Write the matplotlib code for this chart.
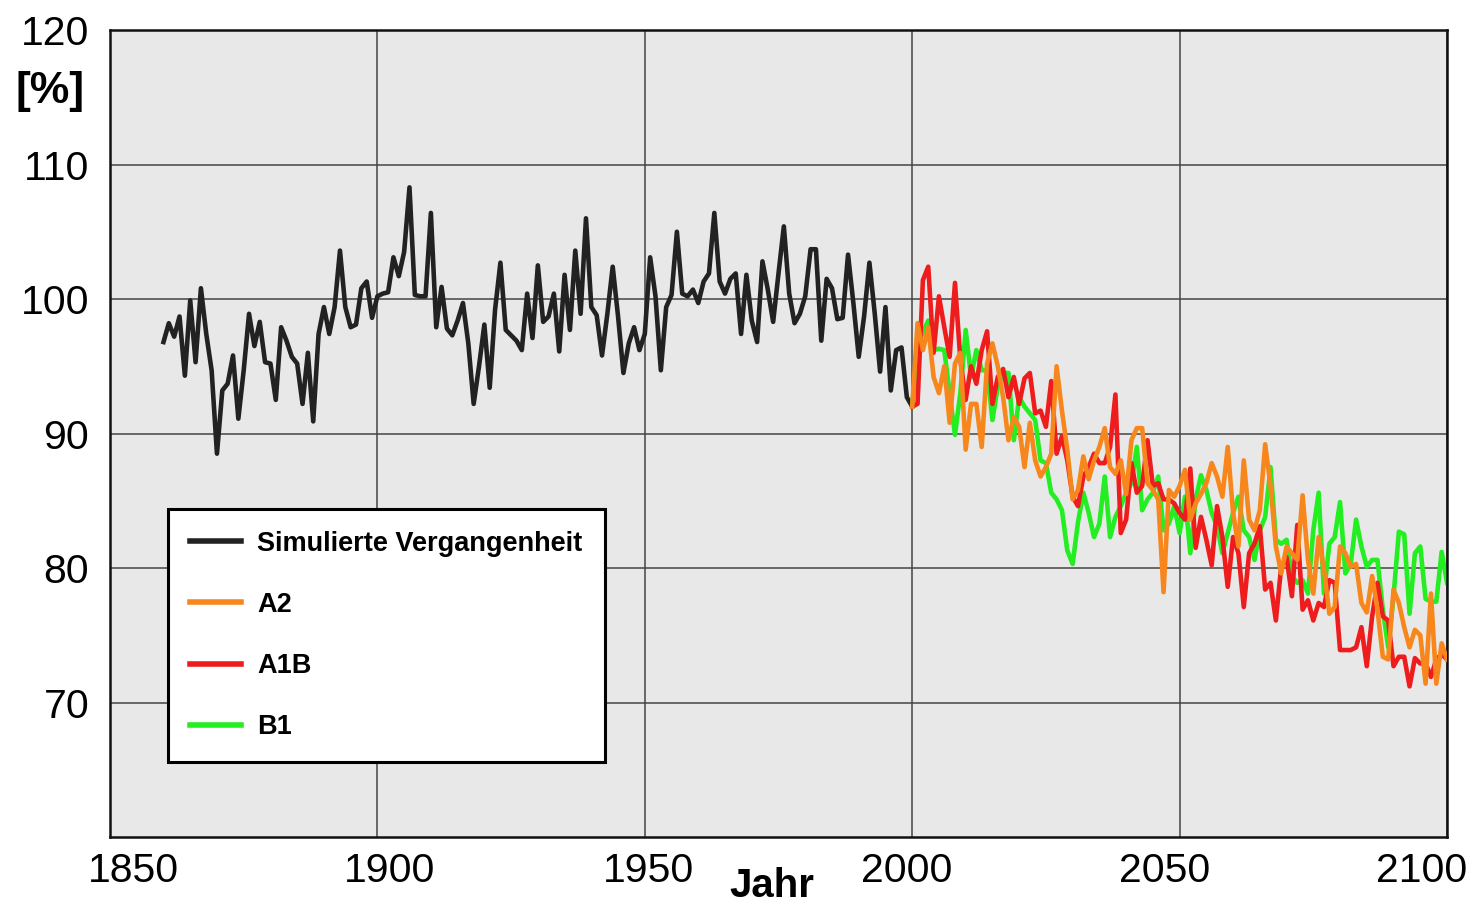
import numpy as np
import matplotlib
matplotlib.use("Agg")
import matplotlib.pyplot as plt
from matplotlib import transforms

plt.rcParams['font.family'] = ['Liberation Sans', 'DejaVu Sans']

# simulated past, 1860-2000
past_years = np.arange(1860, 2001)
past = [
    96.8, 98.2, 97.2, 98.7, 94.3, 99.9, 95.3, 100.8, 97.4, 94.7,
    88.5, 93.2, 93.7, 95.8, 91.1, 94.7, 98.9, 96.5, 98.3, 95.3,
    95.2, 92.5, 97.9, 96.9, 95.7, 95.2, 92.2, 96.0, 90.9, 97.4,
    99.4, 97.4, 99.4, 103.6, 99.4, 97.9, 98.1, 100.8, 101.3, 98.6,
    100.2, 100.4, 100.5, 103.1, 101.7, 103.5, 108.3, 100.3, 100.2, 100.2,
    106.4, 97.9, 100.9, 97.8, 97.3, 98.4, 99.7, 96.7, 92.2, 95.0,
    98.1, 93.4, 99.2, 102.7, 97.7, 97.3, 96.9, 96.2, 100.4, 97.1,
    102.5, 98.3, 98.7, 100.4, 96.1, 101.8, 97.7, 103.6, 98.9, 106.0,
    99.4, 98.8, 95.8, 98.9, 102.4, 98.7, 94.5, 96.7, 97.9, 96.2,
    97.4, 103.1, 100.2, 94.7, 99.4, 100.3, 105.0, 100.4, 100.2, 100.7,
    99.7, 101.3, 101.9, 106.4, 101.3, 100.4, 101.5, 101.9, 97.4, 101.8,
    98.4, 96.8, 102.8, 100.7, 98.3, 101.9, 105.4, 100.4, 98.2, 98.9,
    100.2, 103.7, 103.7, 96.9, 101.5, 100.8, 98.5, 98.6, 103.3, 99.7,
    95.7, 98.7, 102.7, 98.9, 94.6, 99.4, 93.2, 96.2, 96.4, 92.7,
    92.0,
]

# scenarios, 2000-2100
scen_years = np.arange(2000, 2101)
a2 = [
    92.0, 98.2, 96.2, 97.9, 94.2, 93.0, 95.0, 90.8, 95.2, 96.0,
    88.8, 92.2, 92.2, 89.0, 95.2, 96.7, 95.0, 92.7, 89.5, 91.2,
    90.5, 87.5, 90.8, 88.0, 86.8, 87.5, 88.5, 95.0, 91.7, 88.8,
    85.1, 85.8, 88.3, 86.6, 88.0, 89.0, 90.4, 87.5, 87.0, 88.0,
    85.5, 89.5, 90.4, 90.4, 86.3, 85.8, 85.1, 78.2, 85.8, 85.3,
    86.1, 87.3, 83.6, 84.8, 85.5, 86.3, 87.8, 86.8, 85.3, 89.0,
    84.1, 81.6, 88.0, 83.6, 82.8, 84.3, 89.2, 86.1, 81.6, 79.6,
    81.6, 81.1, 80.6, 85.4, 80.6, 78.1, 82.3, 79.9, 76.6, 77.1,
    81.6, 81.1, 80.1, 80.3, 77.4, 76.7, 79.4, 76.9, 73.4, 73.2,
    78.4, 77.4, 75.6, 74.1, 75.4, 75.0, 71.4, 78.1, 71.4, 74.4,
    73.2,
]
a1b = [
    92.0, 92.2, 101.4, 102.4, 96.0, 100.2, 97.9, 95.7, 101.2, 95.5,
    92.5, 95.0, 93.7, 96.2, 97.6, 92.2, 94.2, 94.8, 92.7, 94.2,
    92.2, 94.1, 94.5, 91.5, 91.7, 90.5, 93.9, 88.5, 89.8, 88.0,
    85.3, 84.6, 86.8, 87.5, 88.5, 87.8, 87.8, 89.0, 92.9, 82.6,
    83.6, 87.8, 85.6, 86.1, 89.5, 86.1, 86.3, 85.1, 85.1, 84.8,
    84.1, 83.6, 87.4, 81.5, 83.8, 82.1, 80.2, 84.6, 82.3, 78.6,
    82.3, 81.1, 77.1, 81.1, 81.8, 83.1, 78.4, 78.9, 76.1, 80.1,
    80.8, 77.9, 83.2, 76.9, 77.6, 76.1, 77.4, 77.1, 79.1, 78.9,
    73.9, 73.9, 73.9, 74.1, 75.6, 72.7, 76.4, 78.9, 76.4, 76.1,
    72.7, 73.4, 73.4, 71.2, 73.3, 72.9, 72.9, 71.9, 73.2, 73.6,
    73.2,
]
b1 = [
    92.0, 96.5, 97.5, 98.4, 96.2, 96.3, 96.2, 93.0, 89.9, 93.0,
    97.7, 94.2, 96.2, 94.7, 94.7, 91.0, 93.5, 94.5, 94.5, 89.5,
    92.7, 92.0, 91.5, 91.0, 88.0, 87.8, 85.6, 85.1, 84.3, 81.3,
    80.3, 83.4, 85.6, 84.1, 82.3, 83.3, 86.8, 82.3, 83.8, 84.6,
    85.6, 86.3, 89.0, 84.3, 85.1, 85.6, 86.8, 82.8, 83.3, 84.6,
    82.6, 85.3, 81.1, 85.1, 86.9, 85.8, 84.1, 83.1, 81.1, 82.6,
    84.1, 85.3, 82.8, 82.3, 80.6, 82.8, 83.8, 87.5, 82.1, 81.8,
    82.1, 79.4, 78.9, 79.1, 78.1, 82.8, 85.6, 78.1, 81.8, 82.3,
    84.9, 79.6, 80.3, 83.6, 81.6, 80.1, 80.6, 80.6, 76.9, 74.1,
    77.9, 82.7, 82.5, 76.6, 81.1, 81.6, 77.7, 77.5, 77.5, 81.2,
    78.9,
]

x_ticks = [1850, 1900, 1950, 2000, 2050, 2100]
y_ticks = [70, 80, 90, 100, 110, 120]
# small horizontal shifts of the year labels, as in the original (points)
x_label_shift = [17, 9, 3, -4, -11, -18]

fig = plt.figure(figsize=(14.76, 9.07), dpi=100)
ax = fig.add_axes([110 / 1476, 1 - 837 / 907, 1337 / 1476, 807 / 907])
ax.set_facecolor("#e8e8e8")

lw = 3.3
ax.plot(past_years, past, color="#222222", lw=lw, label="Simulierte Vergangenheit")
ax.plot(scen_years, b1, color="#22ee22", lw=lw, label="B1", zorder=2)
ax.plot(scen_years, a1b, color="#ee1c1c", lw=lw, label="A1B", zorder=3)
ax.plot(scen_years, a2, color="#f7871c", lw=lw, label="A2", zorder=4)

ax.set_xlim(1850, 2100)
ax.set_ylim(60, 120)
ax.set_xticks(x_ticks)
ax.set_yticks(y_ticks)
ax.grid(True, color="#444444", lw=1.1)
ax.set_axisbelow(True)
ax.tick_params(length=0, labelsize=29.5)
ax.tick_params(axis="y", pad=15)
ax.tick_params(axis="x", pad=11)
for sp in ax.spines.values():
    sp.set_linewidth(1.8)
    sp.set_color("#111111")

for lab, dx in zip(ax.get_xticklabels(), x_label_shift):
    lab.set_transform(lab.get_transform() +
                      transforms.ScaledTranslation(dx / 72, 0, fig.dpi_scale_trans))

fig.text(50 / 1476, 1 - 91 / 907, "[%]", fontsize=32, fontweight="bold",
         ha="center", va="center")
fig.text(772 / 1476, 1 - 886 / 907, "Jahr", fontsize=29, fontweight="bold",
         ha="center", va="center")

handles, labels = ax.get_legend_handles_labels()
order = [0, 3, 2, 1]
leg = ax.legend([handles[i] for i in order], [labels[i] for i in order],
                loc="upper left", bbox_to_anchor=(0.0434, 0.0756, 0.327, 0.3308),
                mode="expand", borderaxespad=0, fontsize=19.5, frameon=True,
                fancybox=False, handlelength=1.9, handletextpad=0.6,
                labelspacing=1.3, borderpad=0.8)
leg.get_frame().set_edgecolor("black")
leg.get_frame().set_linewidth(2.2)
leg.get_frame().set_facecolor("white")
leg.get_frame().set_alpha(1)
for t in leg.get_texts():
    t.set_fontweight("bold")
for h in leg.get_lines():
    h.set_linewidth(4)

fig.savefig("out.png", dpi=100)
